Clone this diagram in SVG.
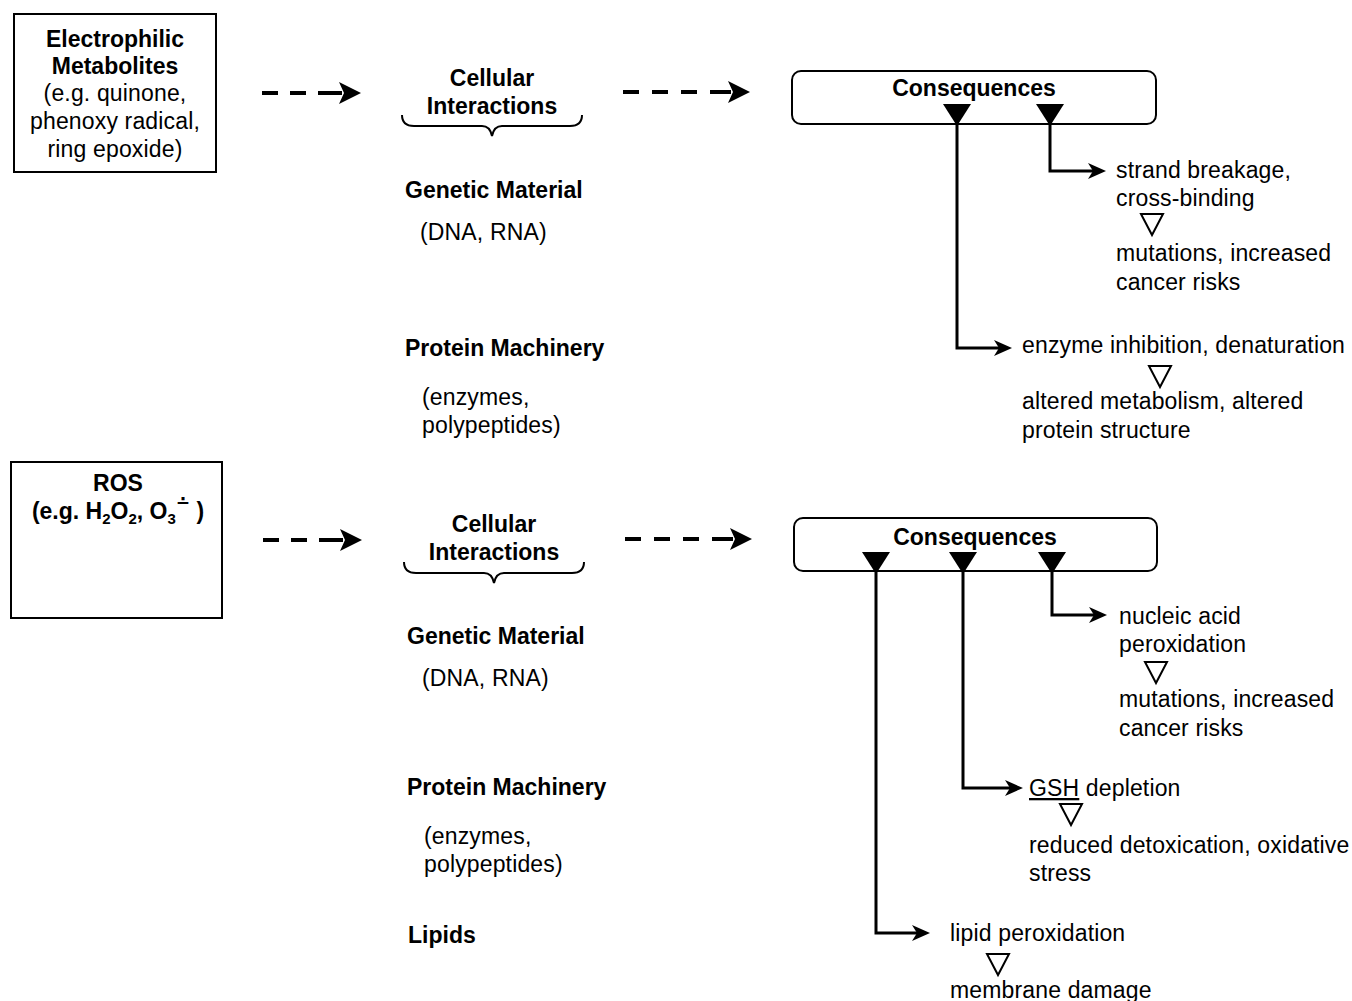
<svg xmlns="http://www.w3.org/2000/svg" xmlns:xlink="http://www.w3.org/1999/xlink" width="1352" height="1001" viewBox="0 0 1352 1001">
<style>
text{font-family:"Liberation Sans",Arial,Helvetica,sans-serif;font-size:23px;fill:#000;letter-spacing:0.15px}
.b{font-weight:bold;letter-spacing:0}
.c{text-anchor:middle}
.box{fill:#fff;stroke:#000;stroke-width:2}
.brace{fill:none;stroke:#000;stroke-width:2}
.dash{fill:none;stroke:#000;stroke-width:4}
.conn{fill:none;stroke:#000;stroke-width:3}
.ft{fill:#000}
.ht{fill:#fff;stroke:#000;stroke-width:2}
</style>
<defs>
<marker id="bigHead" viewBox="0 0 24 24" refX="4" refY="12" markerWidth="24" markerHeight="24" markerUnits="userSpaceOnUse" orient="auto">
<path d="M1,1 L23,12 L1,23 L6,12 z" fill="#000"/>
</marker>
<marker id="head" viewBox="0 0 18 16" refX="5" refY="8" markerWidth="18" markerHeight="16" markerUnits="userSpaceOnUse" orient="auto">
<path d="M0,0 L18,8 L0,16 L5,8 z" fill="#000"/>
</marker>
<path id="ft" d="M-14,0 L14,0 L0,22 z"/>
<path id="ht" d="M-11,0 L11,0 L0,21 z"/>
</defs>
<rect width="1352" height="1001" fill="#fff"/>

<!-- ===== Top section ===== -->
<g id="electrophilic">
<rect class="box" x="14" y="14" width="202" height="158"/>
<text class="b c" x="115" y="47">Electrophilic</text>
<text class="b c" x="115" y="74">Metabolites</text>
<text class="c" x="115" y="101">(e.g. quinone,</text>
<text class="c" x="115" y="129">phenoxy radical,</text>
<text class="c" x="115" y="157">ring epoxide)</text>
</g>

<g id="cellular1">
<text class="b c" x="492" y="86">Cellular</text>
<text class="b c" x="492" y="114">Interactions</text>
<path class="brace" d="M402,115 Q402,126 414,126 H482 Q490,126 492,136 Q494,126 502,126 H570 Q582,126 582,115"/>
</g>
<g id="genetic1">
<text class="b" x="405" y="198">Genetic Material</text>
<text x="420" y="240">(DNA, RNA)</text>
</g>
<g id="protein1">
<text class="b" x="405" y="356">Protein Machinery</text>
<text x="422" y="405">(enzymes,</text>
<text x="422" y="433">polypeptides)</text>
</g>

<g id="consequences1">
<rect class="box" x="792" y="71" width="364" height="53" rx="9"/>
<text class="b c" x="974" y="96">Consequences</text>
<use xlink:href="#ft" class="ft" x="957" y="104"/>
<use xlink:href="#ft" class="ft" x="1050" y="104"/>
</g>

<g id="strand1">
<text x="1116" y="178">strand breakage,</text>
<text x="1116" y="206">cross-binding</text>
<use xlink:href="#ht" class="ht" x="1152" y="214"/>
<text x="1116" y="261">mutations, increased</text>
<text x="1116" y="290">cancer risks</text>
</g>
<g id="enzyme1">
<text x="1022" y="353">enzyme inhibition, denaturation</text>
<use xlink:href="#ht" class="ht" x="1160" y="366"/>
<text x="1022" y="409">altered metabolism, altered</text>
<text x="1022" y="438">protein structure</text>
</g>

<!-- ===== Bottom section ===== -->
<g id="ros">
<rect class="box" x="11" y="462" width="211" height="156"/>
<text class="b c" x="118" y="491">ROS</text>
<text class="b c" x="118" y="519">(e.g. H<tspan font-size="15" dy="5">2</tspan><tspan dy="-5">O</tspan><tspan font-size="15" dy="5">2</tspan><tspan dy="-5">, O</tspan><tspan font-size="15" dy="5">3</tspan><tspan font-size="17" dy="-16" style="font-family:'DejaVu Sans',sans-serif">∸</tspan><tspan dy="11"> )</tspan></text>
</g>

<g id="cellular2">
<text class="b c" x="494" y="532">Cellular</text>
<text class="b c" x="494" y="560">Interactions</text>
<path class="brace" d="M404,562 Q404,573 416,573 H484 Q492,573 494,583 Q496,573 504,573 H572 Q584,573 584,562"/>
</g>
<g id="genetic2">
<text class="b" x="407" y="644">Genetic Material</text>
<text x="422" y="686">(DNA, RNA)</text>
</g>
<g id="protein2">
<text class="b" x="407" y="795">Protein Machinery</text>
<text x="424" y="844">(enzymes,</text>
<text x="424" y="872">polypeptides)</text>
</g>
<g id="lipids2">
<text class="b" x="408" y="943">Lipids</text>
</g>

<g id="consequences2">
<rect class="box" x="794" y="518" width="363" height="53" rx="9"/>
<text class="b c" x="975" y="545">Consequences</text>
<use xlink:href="#ft" class="ft" x="876" y="552"/>
<use xlink:href="#ft" class="ft" x="963" y="552"/>
<use xlink:href="#ft" class="ft" x="1052" y="552"/>
</g>

<g id="nucleic2">
<text x="1119" y="624">nucleic acid</text>
<text x="1119" y="652">peroxidation</text>
<use xlink:href="#ht" class="ht" x="1156" y="662"/>
<text x="1119" y="707">mutations, increased</text>
<text x="1119" y="736">cancer risks</text>
</g>
<g id="gsh2">
<text x="1029" y="796"><tspan text-decoration="underline">GSH</tspan> depletion</text>
<use xlink:href="#ht" class="ht" x="1071" y="804"/>
<text x="1029" y="853">reduced detoxication, oxidative</text>
<text x="1029" y="881">stress</text>
</g>
<g id="lipid2">
<text x="950" y="941">lipid peroxidation</text>
<use xlink:href="#ht" class="ht" x="998" y="954"/>
<text x="950" y="998">membrane damage</text>
</g>

<!-- ===== Connectors ===== -->
<g id="connectors">
<path class="dash" d="M262,93 H278 M290,93 H306 M318,93 H342" marker-end="url(#bigHead)"/>
<path class="dash" d="M623,92 H639 M652,92 H668 M681,92 H697 M710,92 H731" marker-end="url(#bigHead)"/>
<path class="dash" d="M263,540 H279 M291,540 H307 M319,540 H343" marker-end="url(#bigHead)"/>
<path class="dash" d="M625,539 H641 M654,539 H670 M683,539 H699 M712,539 H733" marker-end="url(#bigHead)"/>

<path class="conn" d="M957,124 V348 H999" marker-end="url(#head)"/>
<path class="conn" d="M1050,124 V171 H1093" marker-end="url(#head)"/>

<path class="conn" d="M876,572 V933 H917" marker-end="url(#head)"/>
<path class="conn" d="M963,572 V788 H1010" marker-end="url(#head)"/>
<path class="conn" d="M1052,572 V615 H1094" marker-end="url(#head)"/>
</g>
</svg>
